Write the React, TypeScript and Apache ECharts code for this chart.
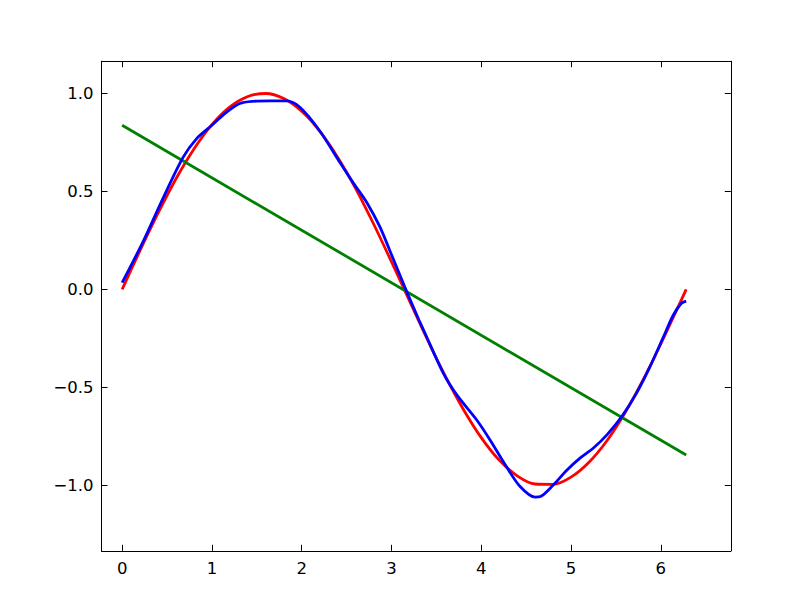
import React, { useEffect, useRef } from "react";
import * as echarts from "echarts";

const sineX = [0, 0.2, 0.4, 0.6, 0.8, 1.0, 1.2, 1.4, 1.6, 1.8, 2.0, 2.2, 2.4, 2.6, 2.8, 3.0, 3.2, 3.4, 3.6, 3.8, 4.0, 4.2, 4.4, 4.6, 4.8, 5.0, 5.2, 5.4, 5.6, 5.8, 6.0, 6.2, 6.283];
const sineY = [0, 0.199, 0.389, 0.565, 0.717, 0.841, 0.932, 0.985, 1.0, 0.974, 0.909, 0.808, 0.675, 0.516, 0.335, 0.141, -0.058, -0.256, -0.443, -0.612, -0.757, -0.872, -0.952, -0.994, -0.996, -0.959, -0.883, -0.773, -0.631, -0.465, -0.279, -0.083, 0];

const fitX = [0, 6.283];
const fitY = [0.838, -0.846];

const approxX = [0, 0.24, 0.46, 0.68, 0.83, 0.98, 1.15, 1.31, 1.45, 1.65, 1.83, 1.98, 2.2, 2.43, 2.58, 2.73, 2.87, 2.98, 3.15, 3.3, 3.36, 3.58, 3.73, 3.95, 4.1, 4.28, 4.43, 4.6, 4.66, 4.8, 4.95, 5.1, 5.25, 5.4, 5.565, 5.73, 5.88, 6.03, 6.14, 6.23, 6.283];
const approxY = [0.034, 0.25, 0.47, 0.675, 0.77, 0.83, 0.9, 0.949, 0.96, 0.962, 0.962, 0.93, 0.81, 0.645, 0.54, 0.44, 0.32, 0.2, 0.01, -0.15, -0.21, -0.43, -0.54, -0.667, -0.77, -0.905, -1.005, -1.061, -1.058, -1.0, -0.925, -0.862, -0.81, -0.743, -0.65, -0.53, -0.395, -0.242, -0.131, -0.071, -0.06];

const xTicks = [0, 1, 2, 3, 4, 5, 6];
const yTicks = [-1.0, -0.5, 0.0, 0.5, 1.0];

const zip = (xs: number[], ys: number[]) => xs.map((x, i) => [x, ys[i]]);

export default function App() {
  const ref = useRef<HTMLDivElement>(null);
  useEffect(() => {
    if (!ref.current) return;
    const chart = echarts.init(ref.current, null, { renderer: "svg" });
    const font = { fontFamily: "DejaVu Sans", fontSize: 16.5, color: "#000" };
    const axisLine = { show: true, onZero: false, lineStyle: { color: "#000", width: 1 } };
    const tick = (vals: number[]) => ({ show: true, inside: true, length: 6, customValues: vals, lineStyle: { color: "#000", width: 1 } });
    const xCommon = { type: "value" as const, min: -0.23, max: 6.78, splitLine: { show: false }, axisLine };
    const yCommon = { type: "value" as const, min: -1.335, max: 1.165, splitLine: { show: false }, axisLine };
    chart.setOption({
      animation: false,
      backgroundColor: "#fff",
      grid: { left: 101.5, right: 81.2, top: 61.2, bottom: 61.2, containLabel: false },
      xAxis: [
        { ...xCommon, position: "bottom", axisTick: tick(xTicks), axisLabel: { ...font, margin: 9, customValues: xTicks, formatter: (v: number) => String(v) } },
        { ...xCommon, position: "top", axisTick: tick(xTicks), axisLabel: { show: false } },
      ],
      yAxis: [
        { ...yCommon, position: "left", axisTick: tick(yTicks), axisLabel: { ...font, margin: 8, customValues: yTicks, formatter: (v: number) => v.toFixed(1).replace("-", "\u2212") } },
        { ...yCommon, position: "right", axisTick: tick(yTicks), axisLabel: { show: false } },
      ],
      series: [
        { type: "line", data: zip(sineX, sineY), smooth: 0.3, showSymbol: false, lineStyle: { color: "#ff0000", width: 2.8 }, z: 2 },
        { type: "line", data: zip(fitX, fitY), showSymbol: false, lineStyle: { color: "#008000", width: 2.8 }, z: 3 },
        { type: "line", data: zip(approxX, approxY), smooth: 0.3, showSymbol: false, lineStyle: { color: "#0000ff", width: 2.8 }, z: 4 },
      ],
    });
    return () => chart.dispose();
  }, []);
  return <div ref={ref} style={{ position: "absolute", left: 0, top: 0, width: 812, height: 612 }} />;
}
